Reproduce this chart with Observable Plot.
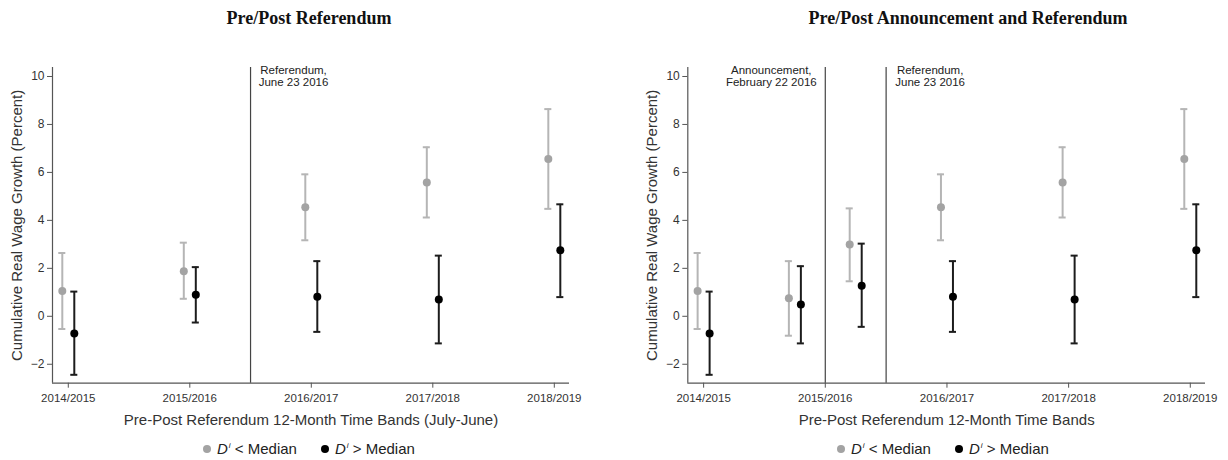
<!DOCTYPE html>
<html>
<head>
<meta charset="utf-8">
<script src="https://cdn.jsdelivr.net/npm/d3@7"></script>
<script src="https://cdn.jsdelivr.net/npm/@observablehq/plot@0.6"></script>
<style>
  html, body { margin: 0; padding: 0; background: #fff; }
  #root { position: relative; width: 1228px; height: 460px; overflow: hidden; font-family: "Liberation Sans", Arial, sans-serif; }
  .title { position: absolute; top: 8px; font-family: "Liberation Serif", "Times New Roman", serif; font-weight: bold; font-size: 18px; color: #111; transform: translateX(-50%); white-space: nowrap; }
  .panel { position: absolute; top: 40px; }
  .panel svg g[aria-label$="axis label"] { font-size: 15px; }
  .legend { position: absolute; top: 440px; font-size: 15px; color: #222; white-space: nowrap; display: flex; align-items: center; }
  .legend .dot { display: inline-block; width: 8px; height: 8px; border-radius: 50%; margin-right: 6px; }
  .legend .item { display: inline-flex; align-items: center; margin-right: 24px; }
  .legend sup { font-size: 8px; font-style: italic; position: relative; top: -3px; vertical-align: top; margin-left: 1px; }
</style>
</head>
<body>
<div id="root"></div>
<script>
// ---- data ----
const tickLabels = ["2014/2015", "2015/2016", "2016/2017", "2017/2018", "2018/2019"];
const tickPositions = [0, 1, 2, 3, 4];
const seriesNames = ["< Median", "> Median"];

// Left panel: Pre/Post Referendum
const leftPos = [0, 1, 2, 3, 4];
const leftLowEst = [1.05, 1.88, 4.55, 5.58, 6.56];
const leftLowLo  = [-0.53, 0.73, 3.17, 4.12, 4.48];
const leftLowHi  = [2.64, 3.07, 5.92, 7.05, 8.64];
const leftHighEst = [-0.72, 0.90, 0.82, 0.70, 2.75];
const leftHighLo  = [-2.44, -0.26, -0.65, -1.13, 0.80];
const leftHighHi  = [1.03, 2.05, 2.30, 2.53, 4.67];
const leftEvents = ["Referendum,\nJune 23 2016"];
const leftEventPos = [1.5];

// Right panel: Pre/Post Announcement and Referendum
const rightPos = [0, 0.75, 1.25, 2, 3, 4];
const rightLowEst = [1.05, 0.75, 2.99, 4.55, 5.58, 6.56];
const rightLowLo  = [-0.53, -0.81, 1.46, 3.17, 4.12, 4.48];
const rightLowHi  = [2.64, 2.30, 4.50, 5.92, 7.05, 8.64];
const rightHighEst = [-0.72, 0.49, 1.27, 0.82, 0.70, 2.75];
const rightHighLo  = [-2.44, -1.13, -0.44, -0.65, -1.13, 0.80];
const rightHighHi  = [1.03, 2.09, 3.03, 2.30, 2.53, 4.67];
const rightEvents = ["Announcement,\nFebruary 22 2016", "Referendum,\nJune 23 2016"];
const rightEventPos = [1.0, 1.5];

const yTicks = [-2, 0, 2, 4, 6, 8, 10];

// ---- build ----
const X_DOMAIN = [-0.13, 4.125];
const Y_DOMAIN = [-2.79, 10.375];
const GRAY = "#a3a3a3", GRAY_BAR = "#b5b5b5", BLACK = "#000", BLACK_BAR = "#1c1c1c", AXIS = "#555";

function rows(pos, est, lo, hi, group) {
  return pos.map((p, i) => ({pos: p, est: est[i], lo: lo[i], hi: hi[i], group}));
}

function panel({pos, lowEst, lowLo, lowHi, highEst, highLo, highHi, events, eventPos, eventDx, xLabel, width, marginLeft, marginRight}) {
  const low = rows(pos, lowEst, lowLo, lowHi, 0);
  const high = rows(pos, highEst, highLo, highHi, 1);
  const ev = events.map((t, i) => ({label: t, pos: eventPos[i]}));
  const cap = 0.029;
  const series = (data, dotColor, barColor, dx) => [
    Plot.ruleX(data, {x: "pos", y1: "lo", y2: "hi", stroke: barColor, strokeWidth: 2, dx}),
    Plot.ruleY(data, {y: "hi", x1: d => d.pos - cap, x2: d => d.pos + cap, stroke: barColor, strokeWidth: 2, dx}),
    Plot.ruleY(data, {y: "lo", x1: d => d.pos - cap, x2: d => d.pos + cap, stroke: barColor, strokeWidth: 2, dx}),
    Plot.dot(data, {x: "pos", y: "est", r: 4, fill: dotColor, stroke: "none", dx})
  ];
  const eventTexts = ev.map((e, i) =>
    Plot.text([e], {x: "pos", y: Y_DOMAIN[1], text: "label", dx: eventDx[i], dy: -2, lineAnchor: "top", textAnchor: "middle", fontSize: 11.5, fill: "#222", lineHeight: 1.05}));
  return Plot.plot({
    width, height: 390,
    marginLeft, marginRight, marginTop: 27, marginBottom: 47.3,
    x: {domain: X_DOMAIN},
    y: {domain: Y_DOMAIN},
    style: {fontFamily: '"Liberation Sans", Arial, sans-serif', color: "#333", background: "transparent", overflow: "visible"},
    marks: [
      Plot.axisY({ticks: yTicks, tickSize: 5, tickPadding: 3, fontSize: 12, stroke: AXIS,
        label: "Cumulative Real Wage Growth (Percent)", labelAnchor: "center", labelArrow: "none", labelOffset: 41}),
      Plot.axisX({ticks: tickPositions, tickFormat: i => tickLabels[i], tickSize: 5, tickPadding: 6, fontSize: 11.5, stroke: AXIS,
        label: xLabel, labelAnchor: "center", labelArrow: "none", labelOffset: 42}),
      Plot.ruleX([X_DOMAIN[0]], {stroke: AXIS, strokeWidth: 1.2}),
      Plot.ruleY([Y_DOMAIN[0]], {stroke: AXIS, strokeWidth: 1.2}),
      Plot.ruleX(ev, {x: "pos", stroke: "#444", strokeWidth: 1.2}),
      ...eventTexts,
      ...series(low, GRAY, GRAY_BAR, -6),
      ...series(high, BLACK, BLACK_BAR, 6)
    ]
  });
}

const root = document.getElementById("root");

function addDiv(cls, left, html) {
  const d = document.createElement("div");
  d.className = cls;
  d.style.left = left + "px";
  d.innerHTML = html;
  root.appendChild(d);
  return d;
}

addDiv("title", 309, "Pre/Post Referendum");
addDiv("title", 968, "Pre/Post Announcement and Referendum");

const leftSvg = panel({pos: leftPos, lowEst: leftLowEst, lowLo: leftLowLo, lowHi: leftLowHi,
  highEst: leftHighEst, highLo: leftHighLo, highHi: leftHighHi,
  events: leftEvents, eventPos: leftEventPos, eventDx: [43],
  xLabel: "Pre-Post Referendum 12-Month Time Bands (July-June)",
  width: 600, marginLeft: 52, marginRight: 31});
const rightSvg = panel({pos: rightPos, lowEst: rightLowEst, lowLo: rightLowLo, lowHi: rightLowHi,
  highEst: rightHighEst, highLo: rightHighLo, highHi: rightHighHi,
  events: rightEvents, eventPos: rightEventPos, eventDx: [-54, 44],
  xLabel: "Pre-Post Referendum 12-Month Time Bands",
  width: 614, marginLeft: 73.3, marginRight: 23});

const lp = addDiv("panel", 0, ""); lp.appendChild(leftSvg);
const rp = addDiv("panel", 614, ""); rp.appendChild(rightSvg);

const legendHTML = seriesNames.map((s, i) =>
  `<span class="item"><span class="dot" style="background:${i === 0 ? GRAY : BLACK}"></span><i>D</i><sup>i</sup>&nbsp;${s.replace("<", "&lt;").replace(">", "&gt;")}</span>`).join("");
addDiv("legend", 203, legendHTML);
addDiv("legend", 837, legendHTML);
</script>
</body>
</html>
